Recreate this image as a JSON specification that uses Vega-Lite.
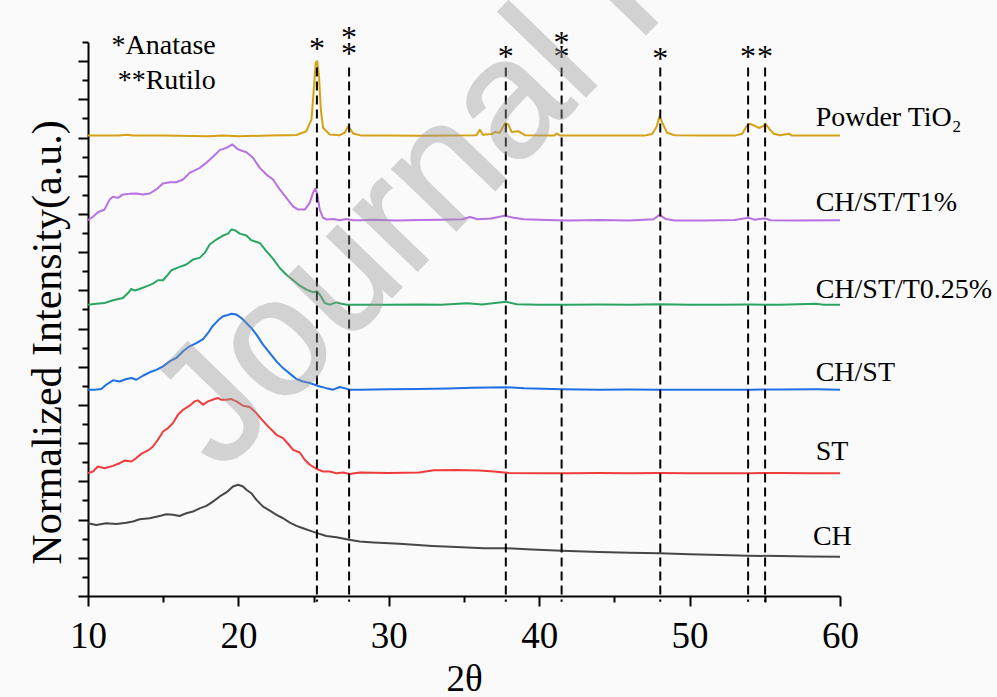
{
  "$schema": "https://vega.github.io/schema/vega-lite/v6.json",
  "width": 752,
  "height": 554,
  "autosize": {"type": "none"},
  "padding": {"left": 88, "top": 42, "right": 157, "bottom": 101},
  "background": "#fafafa",
  "config": {
    "view": {"stroke": null},
    "axis": {
      "domainColor": "#000000", "tickColor": "#000000", "domainWidth": 2, "tickWidth": 2, "grid": false,
      "labelFont": "Liberation Serif", "titleFont": "Liberation Serif", "labelColor": "#000000",
      "titleColor": "#000000", "titleFontWeight": "normal"
    }
  },
  "datasets": {
    "xrd": [
      {"s":"TiO2","x":10,"y":24.1},{"s":"TiO2","x":12,"y":24.11},{"s":"TiO2","x":12.6,"y":24.15},{"s":"TiO2","x":13,"y":24.1},{"s":"TiO2","x":15,"y":24.1},{"s":"TiO2","x":17,"y":24.08},{"s":"TiO2","x":18,"y":24.06},{"s":"TiO2","x":19,"y":24.1},{"s":"TiO2","x":20,"y":24.07},{"s":"TiO2","x":22,"y":24.1},{"s":"TiO2","x":23.2,"y":24.12},{"s":"TiO2","x":23.86,"y":24.13},{"s":"TiO2","x":24.52,"y":24.33},{"s":"TiO2","x":24.86,"y":24.95},{"s":"TiO2","x":25.03,"y":26.69},{"s":"TiO2","x":25.14,"y":27.92},{"s":"TiO2","x":25.24,"y":28.0},{"s":"TiO2","x":25.36,"y":27.22},{"s":"TiO2","x":25.48,"y":25.47},{"s":"TiO2","x":25.63,"y":24.51},{"s":"TiO2","x":26.07,"y":24.16},{"s":"TiO2","x":26.74,"y":24.12},{"s":"TiO2","x":27.07,"y":24.25},{"s":"TiO2","x":27.29,"y":24.58},{"s":"TiO2","x":27.41,"y":24.49},{"s":"TiO2","x":27.63,"y":24.21},{"s":"TiO2","x":28.18,"y":24.1},{"s":"TiO2","x":30,"y":24.1},{"s":"TiO2","x":32,"y":24.09},{"s":"TiO2","x":34,"y":24.1},{"s":"TiO2","x":35.83,"y":24.12},{"s":"TiO2","x":36.05,"y":24.4},{"s":"TiO2","x":36.27,"y":24.14},{"s":"TiO2","x":36.83,"y":24.18},{"s":"TiO2","x":37.05,"y":24.29},{"s":"TiO2","x":37.38,"y":24.25},{"s":"TiO2","x":37.72,"y":24.74},{"s":"TiO2","x":37.94,"y":24.7},{"s":"TiO2","x":38.16,"y":24.29},{"s":"TiO2","x":38.6,"y":24.33},{"s":"TiO2","x":39.05,"y":24.12},{"s":"TiO2","x":41.0,"y":24.1},{"s":"TiO2","x":41.16,"y":24.21},{"s":"TiO2","x":41.4,"y":24.1},{"s":"TiO2","x":43,"y":24.1},{"s":"TiO2","x":45,"y":24.1},{"s":"TiO2","x":47,"y":24.1},{"s":"TiO2","x":47.5,"y":24.18},{"s":"TiO2","x":47.8,"y":24.55},{"s":"TiO2","x":48.0,"y":25.12},{"s":"TiO2","x":48.2,"y":24.75},{"s":"TiO2","x":48.5,"y":24.25},{"s":"TiO2","x":49,"y":24.12},{"s":"TiO2","x":51,"y":24.1},{"s":"TiO2","x":53,"y":24.1},{"s":"TiO2","x":53.5,"y":24.2},{"s":"TiO2","x":53.8,"y":24.6},{"s":"TiO2","x":54.0,"y":24.72},{"s":"TiO2","x":54.3,"y":24.62},{"s":"TiO2","x":54.6,"y":24.5},{"s":"TiO2","x":54.9,"y":24.6},{"s":"TiO2","x":55.05,"y":24.72},{"s":"TiO2","x":55.3,"y":24.45},{"s":"TiO2","x":55.6,"y":24.2},{"s":"TiO2","x":56.0,"y":24.12},{"s":"TiO2","x":56.6,"y":24.2},{"s":"TiO2","x":56.8,"y":24.1},{"s":"TiO2","x":58,"y":24.1},{"s":"TiO2","x":60,"y":24.1},

      {"s":"T1","x":10,"y":19.67},{"s":"T1","x":10.33,"y":19.85},{"s":"T1","x":10.66,"y":20.09},{"s":"T1","x":11.1,"y":20.23},{"s":"T1","x":11.44,"y":20.75},{"s":"T1","x":11.66,"y":20.9},{"s":"T1","x":11.99,"y":20.84},{"s":"T1","x":12.33,"y":21.02},{"s":"T1","x":12.77,"y":21.05},{"s":"T1","x":13.21,"y":21.07},{"s":"T1","x":13.65,"y":21.02},{"s":"T1","x":14.1,"y":21.07},{"s":"T1","x":14.54,"y":21.28},{"s":"T1","x":14.98,"y":21.59},{"s":"T1","x":15.43,"y":21.66},{"s":"T1","x":15.87,"y":21.66},{"s":"T1","x":16.32,"y":21.8},{"s":"T1","x":16.76,"y":22.15},{"s":"T1","x":17.43,"y":22.41},{"s":"T1","x":17.87,"y":22.68},{"s":"T1","x":18.31,"y":22.99},{"s":"T1","x":18.76,"y":23.34},{"s":"T1","x":19.2,"y":23.46},{"s":"T1","x":19.6,"y":23.64},{"s":"T1","x":19.97,"y":23.38},{"s":"T1","x":20.53,"y":23.23},{"s":"T1","x":20.97,"y":22.94},{"s":"T1","x":21.42,"y":22.41},{"s":"T1","x":21.86,"y":22.06},{"s":"T1","x":22.3,"y":21.8},{"s":"T1","x":22.75,"y":21.28},{"s":"T1","x":23.19,"y":20.84},{"s":"T1","x":23.63,"y":20.4},{"s":"T1","x":23.97,"y":20.23},{"s":"T1","x":24.41,"y":20.23},{"s":"T1","x":24.74,"y":20.58},{"s":"T1","x":24.96,"y":21.1},{"s":"T1","x":25.1,"y":21.32},{"s":"T1","x":25.23,"y":21.1},{"s":"T1","x":25.41,"y":20.23},{"s":"T1","x":25.63,"y":19.8},{"s":"T1","x":25.85,"y":19.71},{"s":"T1","x":26.3,"y":19.74},{"s":"T1","x":26.74,"y":19.67},{"s":"T1","x":27.19,"y":19.74},{"s":"T1","x":27.63,"y":19.67},{"s":"T1","x":28.07,"y":19.67},{"s":"T1","x":29,"y":19.7},{"s":"T1","x":30.5,"y":19.66},{"s":"T1","x":32,"y":19.68},{"s":"T1","x":33.5,"y":19.7},{"s":"T1","x":34.9,"y":19.72},{"s":"T1","x":35.4,"y":19.84},{"s":"T1","x":35.9,"y":19.72},{"s":"T1","x":36.8,"y":19.76},{"s":"T1","x":37.7,"y":19.91},{"s":"T1","x":38.3,"y":19.8},{"s":"T1","x":39.0,"y":19.72},{"s":"T1","x":40.5,"y":19.68},{"s":"T1","x":42,"y":19.66},{"s":"T1","x":44,"y":19.68},{"s":"T1","x":46,"y":19.66},{"s":"T1","x":47.6,"y":19.72},{"s":"T1","x":48.0,"y":19.95},{"s":"T1","x":48.4,"y":19.74},{"s":"T1","x":49,"y":19.66},{"s":"T1","x":51,"y":19.66},{"s":"T1","x":53,"y":19.68},{"s":"T1","x":53.9,"y":19.8},{"s":"T1","x":54.3,"y":19.7},{"s":"T1","x":55.0,"y":19.76},{"s":"T1","x":55.4,"y":19.67},{"s":"T1","x":57,"y":19.66},{"s":"T1","x":60,"y":19.67},

      {"s":"T025","x":10,"y":15.25},{"s":"T025","x":10.55,"y":15.3},{"s":"T025","x":11.1,"y":15.34},{"s":"T025","x":11.66,"y":15.48},{"s":"T025","x":12.32,"y":15.6},{"s":"T025","x":12.66,"y":15.86},{"s":"T025","x":12.88,"y":16.07},{"s":"T025","x":13.1,"y":15.99},{"s":"T025","x":13.43,"y":16.07},{"s":"T025","x":13.88,"y":16.21},{"s":"T025","x":14.32,"y":16.35},{"s":"T025","x":14.65,"y":16.53},{"s":"T025","x":14.99,"y":16.53},{"s":"T025","x":15.32,"y":16.82},{"s":"T025","x":15.54,"y":17.05},{"s":"T025","x":16.09,"y":17.23},{"s":"T025","x":16.54,"y":17.35},{"s":"T025","x":16.98,"y":17.61},{"s":"T025","x":17.42,"y":17.7},{"s":"T025","x":17.76,"y":17.96},{"s":"T025","x":18.09,"y":18.4},{"s":"T025","x":18.53,"y":18.66},{"s":"T025","x":18.98,"y":18.87},{"s":"T025","x":19.31,"y":18.97},{"s":"T025","x":19.53,"y":19.18},{"s":"T025","x":19.76,"y":19.15},{"s":"T025","x":20.09,"y":18.97},{"s":"T025","x":20.53,"y":18.87},{"s":"T025","x":20.86,"y":18.62},{"s":"T025","x":21.42,"y":18.48},{"s":"T025","x":21.86,"y":18.05},{"s":"T025","x":22.31,"y":17.65},{"s":"T025","x":22.75,"y":17.17},{"s":"T025","x":23.19,"y":16.82},{"s":"T025","x":23.64,"y":16.53},{"s":"T025","x":24.08,"y":16.25},{"s":"T025","x":24.53,"y":16.04},{"s":"T025","x":24.97,"y":15.9},{"s":"T025","x":25.23,"y":15.95},{"s":"T025","x":25.41,"y":15.78},{"s":"T025","x":25.74,"y":15.34},{"s":"T025","x":26.07,"y":15.25},{"s":"T025","x":26.52,"y":15.37},{"s":"T025","x":26.85,"y":15.3},{"s":"T025","x":27.19,"y":15.25},{"s":"T025","x":28.07,"y":15.25},{"s":"T025","x":30,"y":15.24},{"s":"T025","x":32,"y":15.26},{"s":"T025","x":33.5,"y":15.24},{"s":"T025","x":35.2,"y":15.32},{"s":"T025","x":36.2,"y":15.26},{"s":"T025","x":37.8,"y":15.4},{"s":"T025","x":38.5,"y":15.27},{"s":"T025","x":40,"y":15.25},{"s":"T025","x":42,"y":15.24},{"s":"T025","x":44,"y":15.26},{"s":"T025","x":46,"y":15.25},{"s":"T025","x":48,"y":15.27},{"s":"T025","x":50,"y":15.24},{"s":"T025","x":52,"y":15.25},{"s":"T025","x":54,"y":15.26},{"s":"T025","x":56,"y":15.24},{"s":"T025","x":58.4,"y":15.3},{"s":"T025","x":58.9,"y":15.25},{"s":"T025","x":60,"y":15.24},

      {"s":"CHST","x":10,"y":10.8},{"s":"CHST","x":10.44,"y":10.8},{"s":"CHST","x":10.88,"y":10.83},{"s":"CHST","x":11.21,"y":11.06},{"s":"CHST","x":11.66,"y":11.29},{"s":"CHST","x":12.1,"y":11.23},{"s":"CHST","x":12.55,"y":11.36},{"s":"CHST","x":12.88,"y":11.41},{"s":"CHST","x":13.21,"y":11.32},{"s":"CHST","x":13.65,"y":11.53},{"s":"CHST","x":14.1,"y":11.71},{"s":"CHST","x":14.54,"y":11.84},{"s":"CHST","x":14.99,"y":12.02},{"s":"CHST","x":15.43,"y":12.28},{"s":"CHST","x":15.87,"y":12.46},{"s":"CHST","x":16.32,"y":12.81},{"s":"CHST","x":16.76,"y":13.07},{"s":"CHST","x":17.2,"y":13.24},{"s":"CHST","x":17.65,"y":13.45},{"s":"CHST","x":17.98,"y":13.77},{"s":"CHST","x":18.31,"y":14.15},{"s":"CHST","x":18.65,"y":14.43},{"s":"CHST","x":18.98,"y":14.64},{"s":"CHST","x":19.31,"y":14.71},{"s":"CHST","x":19.53,"y":14.78},{"s":"CHST","x":19.87,"y":14.73},{"s":"CHST","x":20.2,"y":14.55},{"s":"CHST","x":20.53,"y":14.29},{"s":"CHST","x":20.86,"y":14.03},{"s":"CHST","x":21.2,"y":13.68},{"s":"CHST","x":21.64,"y":13.16},{"s":"CHST","x":22.09,"y":12.72},{"s":"CHST","x":22.53,"y":12.28},{"s":"CHST","x":22.97,"y":11.93},{"s":"CHST","x":23.42,"y":11.64},{"s":"CHST","x":23.86,"y":11.36},{"s":"CHST","x":24.3,"y":11.23},{"s":"CHST","x":24.75,"y":11.15},{"s":"CHST","x":25.23,"y":11.01},{"s":"CHST","x":25.85,"y":10.88},{"s":"CHST","x":26.3,"y":10.8},{"s":"CHST","x":26.74,"y":10.94},{"s":"CHST","x":27.07,"y":10.88},{"s":"CHST","x":27.36,"y":10.8},{"s":"CHST","x":28.07,"y":10.8},{"s":"CHST","x":30,"y":10.82},{"s":"CHST","x":32,"y":10.83},{"s":"CHST","x":34,"y":10.86},{"s":"CHST","x":35.5,"y":10.9},{"s":"CHST","x":37.8,"y":10.93},{"s":"CHST","x":39,"y":10.88},{"s":"CHST","x":41.5,"y":10.82},{"s":"CHST","x":44,"y":10.8},{"s":"CHST","x":46,"y":10.81},{"s":"CHST","x":48,"y":10.8},{"s":"CHST","x":50,"y":10.8},{"s":"CHST","x":52,"y":10.79},{"s":"CHST","x":54,"y":10.8},{"s":"CHST","x":56,"y":10.81},{"s":"CHST","x":58.5,"y":10.82},{"s":"CHST","x":60,"y":10.8},

      {"s":"ST","x":10,"y":6.43},{"s":"ST","x":10.33,"y":6.52},{"s":"ST","x":10.66,"y":6.78},{"s":"ST","x":11.1,"y":6.69},{"s":"ST","x":11.66,"y":6.81},{"s":"ST","x":12.1,"y":6.95},{"s":"ST","x":12.43,"y":7.09},{"s":"ST","x":12.88,"y":7.04},{"s":"ST","x":13.21,"y":7.22},{"s":"ST","x":13.54,"y":7.44},{"s":"ST","x":13.99,"y":7.62},{"s":"ST","x":14.32,"y":7.83},{"s":"ST","x":14.65,"y":8.18},{"s":"ST","x":14.99,"y":8.61},{"s":"ST","x":15.32,"y":8.79},{"s":"ST","x":15.65,"y":9.05},{"s":"ST","x":15.98,"y":9.49},{"s":"ST","x":16.32,"y":9.75},{"s":"ST","x":16.76,"y":9.96},{"s":"ST","x":17.09,"y":10.19},{"s":"ST","x":17.31,"y":10.24},{"s":"ST","x":17.65,"y":10.01},{"s":"ST","x":17.98,"y":10.19},{"s":"ST","x":18.42,"y":10.31},{"s":"ST","x":18.65,"y":10.36},{"s":"ST","x":18.87,"y":10.27},{"s":"ST","x":19.2,"y":10.27},{"s":"ST","x":19.53,"y":10.31},{"s":"ST","x":19.87,"y":10.19},{"s":"ST","x":20.31,"y":9.96},{"s":"ST","x":20.75,"y":9.89},{"s":"ST","x":21.09,"y":9.66},{"s":"ST","x":21.53,"y":9.26},{"s":"ST","x":21.97,"y":8.88},{"s":"ST","x":22.53,"y":8.44},{"s":"ST","x":22.97,"y":8.26},{"s":"ST","x":23.3,"y":7.97},{"s":"ST","x":23.64,"y":7.65},{"s":"ST","x":24.08,"y":7.51},{"s":"ST","x":24.41,"y":7.13},{"s":"ST","x":24.75,"y":6.87},{"s":"ST","x":25.23,"y":6.64},{"s":"ST","x":25.63,"y":6.52},{"s":"ST","x":26.07,"y":6.52},{"s":"ST","x":26.52,"y":6.43},{"s":"ST","x":26.96,"y":6.46},{"s":"ST","x":27.41,"y":6.39},{"s":"ST","x":28.07,"y":6.46},{"s":"ST","x":30,"y":6.44},{"s":"ST","x":32,"y":6.46},{"s":"ST","x":33,"y":6.58},{"s":"ST","x":34.5,"y":6.6},{"s":"ST","x":36,"y":6.57},{"s":"ST","x":37,"y":6.52},{"s":"ST","x":38,"y":6.44},{"s":"ST","x":40,"y":6.43},{"s":"ST","x":42,"y":6.43},{"s":"ST","x":44,"y":6.44},{"s":"ST","x":46,"y":6.43},{"s":"ST","x":48,"y":6.44},{"s":"ST","x":50,"y":6.43},{"s":"ST","x":52,"y":6.43},{"s":"ST","x":54,"y":6.43},{"s":"ST","x":56,"y":6.44},{"s":"ST","x":58,"y":6.43},{"s":"ST","x":60,"y":6.43},

      {"s":"CH","x":10,"y":3.81},{"s":"CH","x":10.55,"y":3.72},{"s":"CH","x":11.21,"y":3.81},{"s":"CH","x":11.88,"y":3.77},{"s":"CH","x":12.55,"y":3.84},{"s":"CH","x":12.99,"y":3.9},{"s":"CH","x":13.43,"y":4.02},{"s":"CH","x":14.1,"y":4.07},{"s":"CH","x":14.76,"y":4.19},{"s":"CH","x":15.21,"y":4.28},{"s":"CH","x":15.65,"y":4.25},{"s":"CH","x":16.09,"y":4.19},{"s":"CH","x":16.54,"y":4.33},{"s":"CH","x":16.98,"y":4.42},{"s":"CH","x":17.42,"y":4.59},{"s":"CH","x":17.87,"y":4.72},{"s":"CH","x":18.31,"y":4.94},{"s":"CH","x":18.76,"y":5.21},{"s":"CH","x":19.2,"y":5.42},{"s":"CH","x":19.64,"y":5.73},{"s":"CH","x":19.98,"y":5.82},{"s":"CH","x":20.31,"y":5.73},{"s":"CH","x":20.53,"y":5.56},{"s":"CH","x":20.86,"y":5.38},{"s":"CH","x":21.2,"y":5.03},{"s":"CH","x":21.64,"y":4.68},{"s":"CH","x":22.09,"y":4.47},{"s":"CH","x":22.53,"y":4.25},{"s":"CH","x":22.97,"y":4.07},{"s":"CH","x":23.42,"y":3.84},{"s":"CH","x":23.86,"y":3.67},{"s":"CH","x":24.3,"y":3.55},{"s":"CH","x":24.75,"y":3.42},{"s":"CH","x":25.23,"y":3.29},{"s":"CH","x":25.85,"y":3.14},{"s":"CH","x":26.52,"y":3.08},{"s":"CH","x":27.36,"y":2.94},{"s":"CH","x":28.07,"y":2.85},{"s":"CH","x":29,"y":2.8},{"s":"CH","x":30.7,"y":2.73},{"s":"CH","x":32.9,"y":2.62},{"s":"CH","x":34.5,"y":2.56},{"s":"CH","x":36.3,"y":2.5},{"s":"CH","x":37.8,"y":2.5},{"s":"CH","x":39.5,"y":2.44},{"s":"CH","x":41.5,"y":2.37},{"s":"CH","x":44,"y":2.3},{"s":"CH","x":46,"y":2.27},{"s":"CH","x":48,"y":2.24},{"s":"CH","x":50,"y":2.19},{"s":"CH","x":52,"y":2.14},{"s":"CH","x":53.9,"y":2.11},{"s":"CH","x":56,"y":2.09},{"s":"CH","x":58,"y":2.07},{"s":"CH","x":60,"y":2.06}
    ],
    "peaks": [{"x":25.22},{"x":27.36},{"x":37.78},{"x":41.49},{"x":48.05},{"x":53.89},{"x":55.02}],
    "stars": [
      {"x":25.22,"y":28.09,"t":"*"},{"x":27.36,"y":28.67,"t":"*"},{"x":27.36,"y":27.83,"t":"*"},
      {"x":37.78,"y":27.67,"t":"*"},{"x":41.49,"y":28.41,"t":"*"},{"x":41.49,"y":27.67,"t":"*"},
      {"x":48.05,"y":27.57,"t":"*"},{"x":53.89,"y":27.67,"t":"*"},{"x":55.02,"y":27.67,"t":"*"}
    ],
    "labels": [
      {"x":11.57,"y":28.35,"t":"*Anatase"},{"x":11.97,"y":26.52,"t":"**Rutilo"},
      {"x":58.38,"y":24.6,"t":"Powder TiO₂"},{"x":58.38,"y":20.14,"t":"CH/ST/T1%"},
      {"x":58.38,"y":15.62,"t":"CH/ST/T0.25%"},{"x":58.38,"y":11.23,"t":"CH/ST"},
      {"x":58.38,"y":7.13,"t":"ST"},{"x":58.2,"y":2.67,"t":"CH"}
    ],
    "wm": [{"x":18.86,"y":6.39,"t":"Journal Pre-proof"}]
  },
  "layer": [
    {
      "data": {"name": "xrd"},
      "mark": {"type": "line", "strokeJoin": "round"},
      "encoding": {
        "x": {"field": "x", "type": "quantitative", "scale": {"domain": [10, 60], "nice": false, "zero": false},
              "axis": {"orient": "bottom", "values": [10, 20, 30, 40, 50, 60], "tickSize": 10, "labelFontSize": 37, "labelPadding": 12, "labelFlush": false,
                       "title": "2θ", "titleFontSize": 37, "titleX": 376, "titleY": 94, "titleBaseline": "alphabetic", "titleAlign": "center"}},
        "y": {"field": "y", "type": "quantitative", "scale": {"domain": [0, 29], "nice": false, "zero": false},
              "axis": {"orient": "left", "values": [0, 2, 4, 6, 8, 10, 12, 14, 16, 18, 20, 22, 24, 26, 28], "tickSize": 10, "labels": false,
                       "title": "Normalized Intensity(a.u.)", "titleFontSize": 42, "titleAngle": 270, "titleX": -28, "titleY": 300, "titleBaseline": "alphabetic", "titleAlign": "center"}},
        "color": {"field": "s", "type": "nominal", "legend": null,
                  "scale": {"domain": ["TiO2", "T1", "T025", "CHST", "ST", "CH"], "range": ["#d4a214", "#b871e3", "#2ba562", "#1f6fe5", "#f03c3c", "#474747"]}},
        "strokeWidth": {"field": "s", "type": "nominal", "legend": null,
                        "scale": {"domain": ["TiO2", "T1", "T025", "CHST", "ST", "CH"], "range": [2, 2, 2, 2, 2, 4]}}
      }
    },
    {
      "data": {"name": "peaks"},
      "mark": {"type": "rule", "color": "#000000", "strokeWidth": 2, "strokeDash": [9, 5]},
      "encoding": {
        "x": {"field": "x", "type": "quantitative",
              "axis": {"orient": "bottom", "values": [15, 25, 35, 45, 55], "tickSize": 6, "labels": false, "domain": false, "title": null}},
        "y": {"datum": 27.67, "type": "quantitative",
              "axis": {"orient": "left", "values": [1, 3, 5, 7, 9, 11, 13, 15, 17, 19, 21, 23, 25, 27, 29], "tickSize": 6, "labels": false, "domain": false, "title": null}},
        "y2": {"datum": -0.3}
      }
    },
    {
      "data": {"name": "stars"},
      "mark": {"type": "text", "font": "Liberation Serif", "fontSize": 32, "align": "center", "baseline": "alphabetic", "color": "#000000"},
      "encoding": {
        "x": {"field": "x", "type": "quantitative", "axis": null},
        "y": {"field": "y", "type": "quantitative", "axis": null},
        "text": {"field": "t"}
      }
    },
    {
      "data": {"name": "labels"},
      "mark": {"type": "text", "font": "Liberation Serif", "fontSize": 28, "align": "left", "baseline": "alphabetic", "color": "#000000"},
      "encoding": {
        "x": {"field": "x", "type": "quantitative", "axis": null},
        "y": {"field": "y", "type": "quantitative", "axis": null},
        "text": {"field": "t"}
      }
    },
    {
      "data": {"name": "wm"},
      "mark": {"type": "text", "font": "Liberation Sans", "fontSize": 168, "angle": -46, "align": "left", "baseline": "alphabetic", "color": "#999999", "stroke": "#999999", "strokeWidth": 2, "opacity": 0.4},
      "encoding": {
        "x": {"field": "x", "type": "quantitative", "axis": null},
        "y": {"field": "y", "type": "quantitative", "axis": null},
        "text": {"field": "t"}
      }
    }
  ],
  "resolve": {"axis": {"x": "independent", "y": "independent"}}
}
